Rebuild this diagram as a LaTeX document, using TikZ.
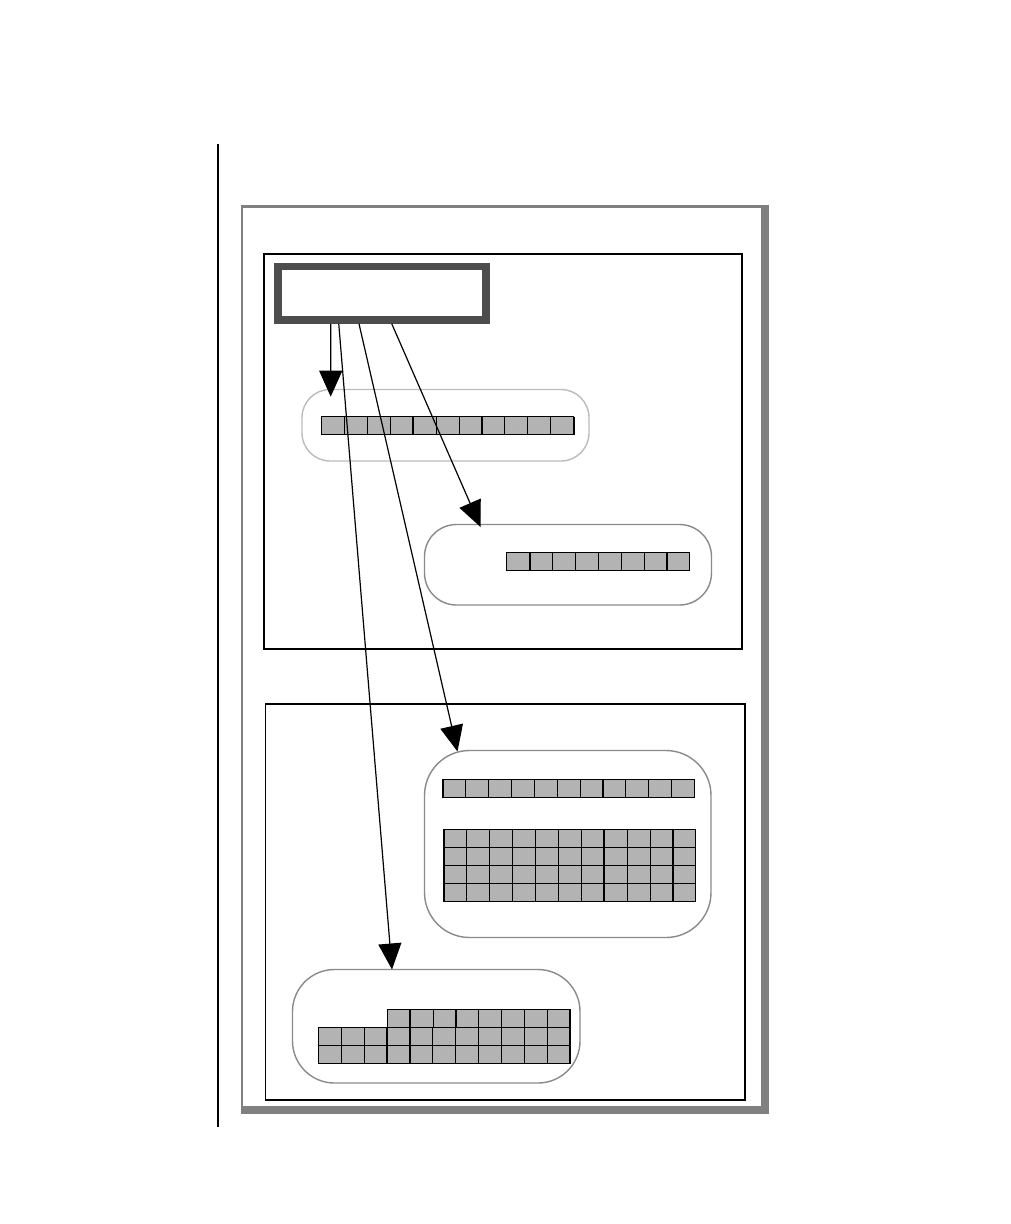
\documentclass[tikz,border=0pt]{standalone}
\usepackage[dvipsnames,svgnames,x11names]{xcolor}
\usepackage{tikz}
\usetikzlibrary{arrows.meta,positioning,calc}
\definecolor{cellgray}{HTML}{B3B3B3}
\definecolor{framegray}{HTML}{808080}
\definecolor{darkborder}{HTML}{4D4D4D}
\definecolor{blobgray}{HTML}{8A8A8A}
\definecolor{blobpale}{HTML}{BBBBBB}
\tikzset{
  cell/.style={draw=black,fill=cellgray,line width=1.1pt},
  wordsep/.style={draw=black,line width=2.1pt},
  region/.style={rectangle,draw=black,line width=1.2pt,outer sep=0pt},
  srcbox/.style={rectangle,draw=darkborder,line width=7.5pt,fill=white},
  blob/.style={rectangle,rounded corners=#1,draw=blobgray,line width=1.4pt,outer sep=0pt},
  blob/.default={30pt},
  myarrow/.style={-{Triangle[length=26pt,width=23pt]},line width=1.2pt,black},
}
\begin{document}
\begin{tikzpicture}[x=1pt,y=-1pt]
  \useasboundingbox (0,0) rectangle (1010,1224);
  % page rule and outer frame
  \draw[line width=1.3pt] (218,144) -- (218,1127);
  \draw[framegray,line width=2.5pt] (764.8,206.3) -| (242,1110);
  \draw[framegray,line width=8pt] (764.8,205) |- (241,1110);
  \node[region,minimum width=478pt,minimum height=395pt] (upper) at (503,451.5) {};
  \node[region,minimum width=479.5pt,minimum height=396pt] (lower) at (505.25,902) {};
  % source
  \node[srcbox,minimum width=208pt,minimum height=53.5pt] (src) at (382,293.25) {};
  % targets
  \node[blob=28pt,draw=blobpale,minimum width=287pt,minimum height=71.5pt] (arrA) at (445.5,425.25) {};
  \node[blob=32pt,minimum width=287pt,minimum height=80.5pt] (arrB) at (568,564.75) {};
  \node[blob=45pt,minimum width=286.5pt,minimum height=187pt] (arrC) at (567.75,844) {};
  \node[blob=42pt,minimum width=287.5pt,minimum height=113.5pt] (arrD) at (436.25,1026.25) {};
  % cells
  \foreach \c in {0,...,10}
    \draw[cell] ({321.7+\c*22.9},416.7) rectangle ++(22.9,18);
  \draw[wordsep] (413.3,416.7) -- ++(0,18);
  \draw[wordsep] (573.6,416.7) -- ++(0,18);
  \foreach \c in {0,...,7}
    \draw[cell] ({506.7+\c*22.9},552.3) rectangle ++(22.9,18);
  \draw[wordsep] (529.6,552.3) -- ++(0,18);
  \foreach \c in {0,...,10}
    \draw[cell] ({442.7+\c*22.9},779.3) rectangle ++(22.9,18);
  \draw[wordsep] (442.7,779.3) -- ++(0,18);
  \draw[wordsep] (603.0,779.3) -- ++(0,18);
  \foreach \r in {0,...,3}
    \foreach \c in {0,...,10}
      \draw[cell] ({444+\c*22.9},{829.3+\r*18}) rectangle ++(22.9,18);
  \draw[wordsep] (444,829.3) -- ++(0,72);
  \draw[wordsep] (604.3,829.3) -- ++(0,72);
  \foreach \c in {0,...,7}
    \draw[cell] ({387.3+\c*22.9},1009.3) rectangle ++(22.9,18);
  \foreach \r in {0,1}
    \foreach \c in {0,...,10}
      \draw[cell] ({318.3+\c*22.9},{1027.3+\r*18}) rectangle ++(22.9,18);
  \draw[wordsep] (409.9,1009.3) -- ++(0,54);
  \draw[wordsep] (570.2,1009.3) -- ++(0,54);
  % pointers
  \draw[myarrow] ([xshift=56.5pt]src.south west) -- ([xshift=28.7pt,yshift=-7.2pt]arrA.north west);
  \draw[myarrow] ([xshift=64.5pt]src.south west) -- ([xshift=99.5pt]arrD.north west);
  \draw[myarrow] ([xshift=84.75pt]src.south west) -- ([xshift=33pt,yshift=-1pt]arrC.north west);
  \draw[myarrow] ([xshift=117.5pt]src.south west) -- ([xshift=56pt,yshift=-2.5pt]arrB.north west);
\end{tikzpicture}
\end{document}
